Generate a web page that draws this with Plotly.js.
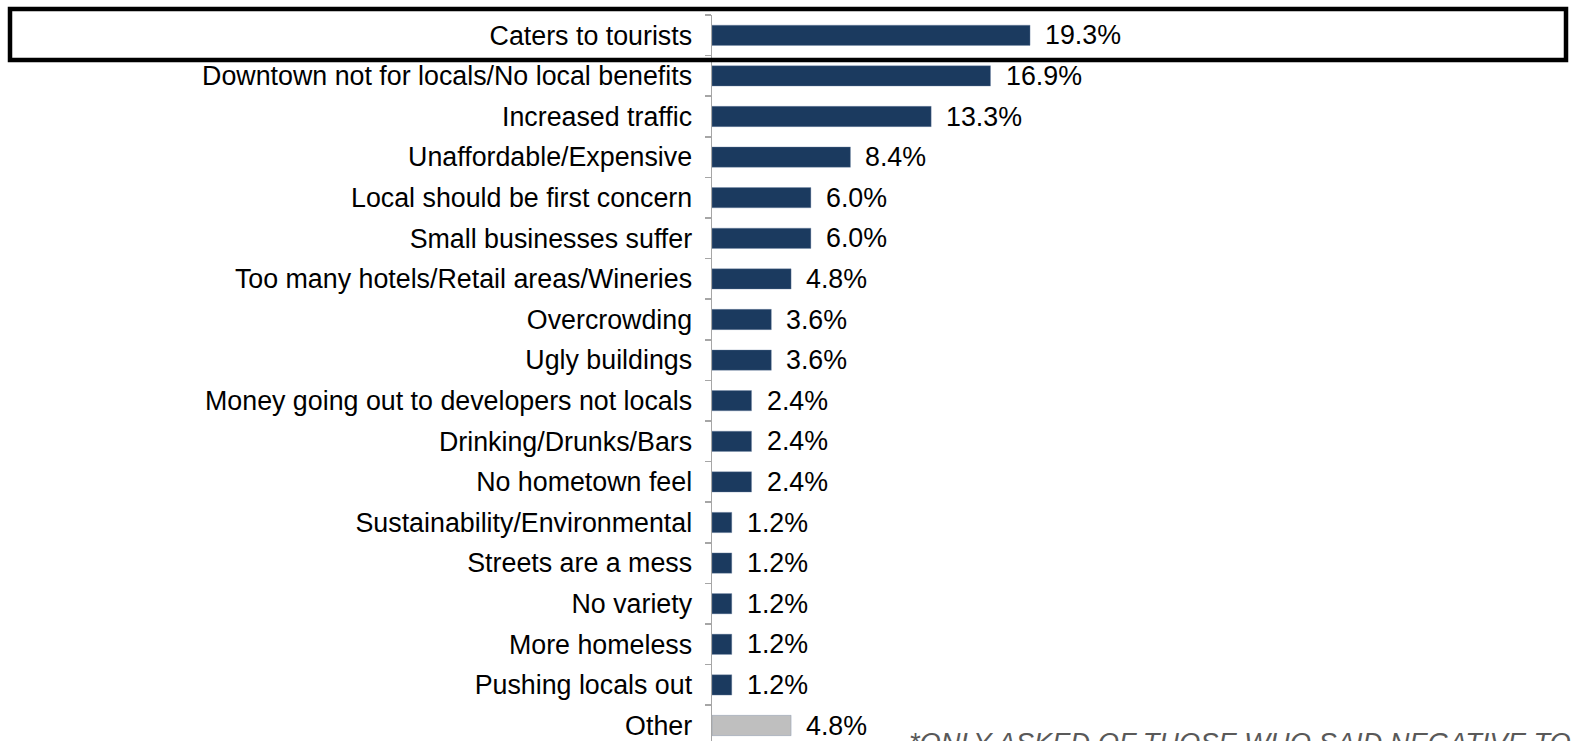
<!DOCTYPE html>
<html>
<head>
<meta charset="utf-8">
<script src="https://cdn.plot.ly/plotly-3.0.1.min.js"></script>
<style>
html,body{margin:0;padding:0;overflow:hidden;background:#fff;}
#chart{width:1575px;height:741px;}
</style>
</head>
<body>
<div id="chart"></div>
<script>
const categories = [
  "Caters to tourists",
  "Downtown not for locals/No local benefits",
  "Increased traffic",
  "Unaffordable/Expensive",
  "Local should be first concern",
  "Small businesses suffer",
  "Too many hotels/Retail areas/Wineries",
  "Overcrowding",
  "Ugly buildings",
  "Money going out to developers not locals",
  "Drinking/Drunks/Bars",
  "No hometown feel",
  "Sustainability/Environmental",
  "Streets are a mess",
  "No variety",
  "More homeless",
  "Pushing locals out",
  "Other"
];
const values = [19.3, 16.9, 13.3, 8.4, 6.0, 6.0, 4.8, 3.6, 3.6, 2.4, 2.4, 2.4, 1.2, 1.2, 1.2, 1.2, 1.2, 4.8];
const valueLabels = ["19.3%","16.9%","13.3%","8.4%","6.0%","6.0%","4.8%","3.6%","3.6%","2.4%","2.4%","2.4%","1.2%","1.2%","1.2%","1.2%","1.2%","4.8%"];
const footnote = "*ONLY ASKED OF THOSE WHO SAID NEGATIVE TO DOWNTOWN CHANGES";

const W = 1575, H = 741;
const mL = 712, mR = 500, mT = 15, mB = 0;
const plotW = W - mL - mR, plotH = H - mT - mB;
const pxPerUnit = 16.48;
const catStep = 40.6;
const FONT = "Liberation Sans, Arial, sans-serif";
const FS = 26.8;

const navy = "#1B3A5F";
const grey = "#BFBFBF";
const colors = categories.map(c => c === "Other" ? grey : navy);

const px2x = p => (p - mL) / plotW;
const px2y = p => (H - mB - p) / plotH;

const annotations = categories.map((c, i) => ({
  x: values[i], y: c, xref: "x", yref: "y",
  text: valueLabels[i], showarrow: false,
  xanchor: "left", yanchor: "middle", xshift: 13,
  font: {family: FONT, size: FS, color: "#000"}
}));
annotations.push({
  x: px2x(907), y: px2y(743), xref: "paper", yref: "paper",
  text: "<i>" + footnote + "</i>", showarrow: false,
  xanchor: "left", yanchor: "middle",
  font: {family: FONT, size: 27.3, color: "#595959"}
});

const trace = {
  type: "bar", orientation: "h",
  y: categories, x: values,
  width: 0.5,
  marker: {color: colors, line: {color: "rgba(120,140,170,0.6)", width: 0.6}},
  hoverinfo: "skip"
};

const layout = {
  width: W, height: H,
  margin: {l: mL, r: mR, t: mT, b: mB, pad: 0},
  paper_bgcolor: "#fff", plot_bgcolor: "#fff",
  showlegend: false,
  xaxis: {
    range: [0, plotW / pxPerUnit],
    showgrid: false, zeroline: false, showline: false,
    showticklabels: false, ticks: ""
  },
  yaxis: {
    type: "category",
    range: [-0.5 + plotH / catStep, -0.5],
    showgrid: false, zeroline: false,
    showline: true, linecolor: "#A6A6A6", linewidth: 1.5,
    ticks: "outside", tickson: "boundaries", ticklen: 6, tickcolor: "#A6A6A6", tickwidth: 1.5,
    ticklabelstandoff: 13,
    tickfont: {family: FONT, size: FS, color: "#000"}
  },
  annotations: annotations,
  shapes: [{
    type: "rect", xref: "paper", yref: "paper",
    x0: px2x(10), x1: px2x(1566), y0: px2y(60), y1: px2y(9),
    line: {color: "#000", width: 4.5}, fillcolor: "rgba(0,0,0,0)", layer: "above"
  }]
};

Plotly.newPlot("chart", [trace], layout, {displayModeBar: false, staticPlot: true});
</script>
</body>
</html>
